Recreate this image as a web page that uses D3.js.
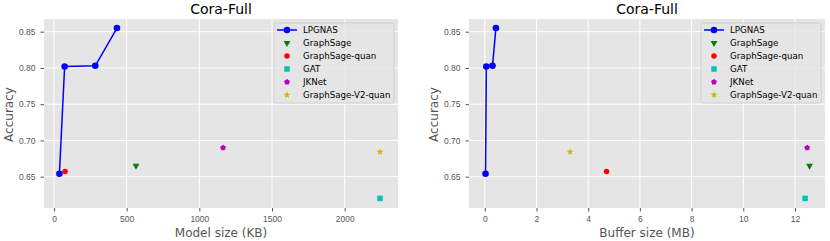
<!DOCTYPE html>
<html>
<head>
<meta charset="utf-8">
<script src="https://cdn.jsdelivr.net/npm/d3@7"></script>
<style>
  body { margin: 0; background: #fff; }
  svg { font-family: "DejaVu Sans", sans-serif; }
  .tick text { fill: #555; font-size: 8.5px; }
  .tick line { stroke: #555; }
  .domain { display: none; }
</style>
</head>
<body>
<div class="chart"></div>
<script>
// legend order / colours
let seriesNames = ["LPGNAS", "GraphSage", "GraphSage-quan", "GAT", "JKNet", "GraphSage-V2-quan"];
let seriesColors = ["#0000ff", "#008000", "#ff0000", "#00bfbf", "#bf00bf", "#bfbf00"];

// accuracy (shared by both panels)
let lpgnasAcc = [0.654, 0.802, 0.803, 0.855];
let baselineAcc = [0.665, 0.657, 0.620, 0.690, 0.684]; // GraphSage, -quan, GAT, JKNet, V2-quan

// left panel: model size (KB)
let lpgnasModel = [37, 73, 284, 433];
let baselineModel = [564, 76, 2243, 1163, 2243];

// right panel: buffer size (MB)
let lpgnasBuffer = [0.03, 0.06, 0.30, 0.43];
let baselineBuffer = [12.56, 4.71, 12.39, 12.47, 3.30];

let yTicks = [0.65, 0.70, 0.75, 0.80, 0.85];
let modelTicks = [0, 500, 1000, 1500, 2000];
let bufferTicks = [0, 2, 4, 6, 8, 10, 12];

let svgWidth = 830;
let svgHeight = 241;

let svg = d3.select(".chart")
	.append("svg")
	.attr("width", svgWidth)
	.attr("height", svgHeight);

// pentagon marker ('p' in matplotlib)
let symbolPentagon = {
	draw: function(ctx, size) {
		let r = Math.sqrt(size / 2.378);
		for (let i = 0; i < 5; i++) {
			let a = -Math.PI / 2 + i * 2 * Math.PI / 5;
			if (i === 0) ctx.moveTo(r * Math.cos(a), r * Math.sin(a));
			else ctx.lineTo(r * Math.cos(a), r * Math.sin(a));
		}
		ctx.closePath();
	}
};

// one marker per baseline, same order as baselineAcc
let baselineSymbols = [
	{ type: d3.symbolTriangle, size: 20, rotate: 180 },
	{ type: d3.symbolCircle, size: 24, rotate: 0 },
	{ type: d3.symbolSquare, size: 30, rotate: 0 },
	{ type: symbolPentagon, size: 22, rotate: 0 },
	{ type: d3.symbolStar, size: 16, rotate: 0 }
];

function drawPanel(opts) {
	let x = d3.scaleLinear().domain(opts.xDomain).range([opts.left, opts.right]);
	let y = d3.scaleLinear().domain([0.6068, 0.8675]).range([208, 19]);

	let g = svg.append("g");

	g.append("rect")
		.attr("x", opts.left)
		.attr("y", 19)
		.attr("width", opts.right - opts.left)
		.attr("height", 208 - 19)
		.attr("fill", "#e5e5e5");

	// grid
	g.selectAll(".vgrid")
		.data(opts.xTicks)
		.enter().append("line")
		.attr("x1", d => x(d)).attr("x2", d => x(d))
		.attr("y1", 19).attr("y2", 208)
		.attr("stroke", "#fff")
		.attr("stroke-width", 1);

	g.selectAll(".hgrid")
		.data(yTicks)
		.enter().append("line")
		.attr("x1", opts.left).attr("x2", opts.right)
		.attr("y1", d => y(d)).attr("y2", d => y(d))
		.attr("stroke", "#fff")
		.attr("stroke-width", 1);

	g.append("g")
		.attr("transform", "translate(0,208)")
		.call(d3.axisBottom(x).tickValues(opts.xTicks).tickFormat(d3.format("d")).tickSize(3.5).tickPadding(4.5));

	g.append("g")
		.attr("transform", `translate(${opts.left},0)`)
		.call(d3.axisLeft(y).tickValues(yTicks).tickFormat(d3.format(".2f")).tickSize(3.5).tickPadding(5));

	// baselines (drawn under the line, like matplotlib scatter)
	baselineSymbols.forEach(function(s, i) {
		g.append("path")
			.attr("d", d3.symbol().type(s.type).size(s.size))
			.attr("transform", `translate(${x(opts.baseX[i])},${y(baselineAcc[i])}) rotate(${s.rotate})`)
			.attr("fill", seriesColors[i + 1]);
	});

	let pts = opts.lpX.map((v, i) => [v, lpgnasAcc[i]]);
	g.append("path")
		.datum(pts)
		.attr("fill", "none")
		.attr("stroke", seriesColors[0])
		.attr("stroke-width", 1.5)
		.attr("d", d3.line().x(d => x(d[0])).y(d => y(d[1])));

	g.selectAll(".lp")
		.data(pts)
		.enter().append("circle")
		.attr("cx", d => x(d[0]))
		.attr("cy", d => y(d[1]))
		.attr("r", 3.3)
		.attr("fill", seriesColors[0]);

	// titles
	g.append("text")
		.attr("x", (opts.left + opts.right) / 2)
		.attr("y", 14)
		.attr("text-anchor", "middle")
		.style("font-size", "14px")
		.attr("fill", "#000")
		.text("Cora-Full");

	g.append("text")
		.attr("x", (opts.left + opts.right) / 2)
		.attr("y", 236.5)
		.attr("text-anchor", "middle")
		.style("font-size", "12px")
		.attr("fill", "#555")
		.text(opts.xLabel);

	g.append("text")
		.attr("transform", `translate(${opts.left - 31.5},114.5) rotate(-90)`)
		.attr("text-anchor", "middle")
		.style("font-size", "12px")
		.attr("fill", "#555")
		.text("Accuracy");

	// legend
	let lx = opts.right - 124;
	let leg = g.append("g").attr("transform", `translate(${lx},23)`);
	leg.append("rect")
		.attr("width", 120)
		.attr("height", 80)
		.attr("rx", 2)
		.attr("fill", "#e5e5e5")
		.attr("fill-opacity", 0.8)
		.attr("stroke", "#cccccc")
		.attr("stroke-width", 0.8);

	seriesNames.forEach(function(name, i) {
		let cy = 7 + i * 13;
		if (i === 0) {
			leg.append("line")
				.attr("x1", 3).attr("x2", 23)
				.attr("y1", cy).attr("y2", cy)
				.attr("stroke", seriesColors[0])
				.attr("stroke-width", 1.5);
			leg.append("circle")
				.attr("cx", 13).attr("cy", cy).attr("r", 3.3)
				.attr("fill", seriesColors[0]);
		} else {
			let s = baselineSymbols[i - 1];
			leg.append("path")
				.attr("d", d3.symbol().type(s.type).size(s.size))
				.attr("transform", `translate(13,${cy}) rotate(${s.rotate})`)
				.attr("fill", seriesColors[i]);
		}
		leg.append("text")
			.attr("x", 29)
			.attr("y", cy)
			.attr("dy", "0.35em")
			.style("font-size", "8.7px")
			.attr("fill", "#000")
			.text(name);
	});
}

drawPanel({
	left: 44, right: 398,
	xDomain: [-69, 2367],
	xTicks: modelTicks,
	xLabel: "Model size (KB)",
	lpX: lpgnasModel,
	baseX: baselineModel
});

drawPanel({
	left: 469, right: 825,
	xDomain: [-0.61, 13.16],
	xTicks: bufferTicks,
	xLabel: "Buffer size (MB)",
	lpX: lpgnasBuffer,
	baseX: baselineBuffer
});
</script>
</body>
</html>
